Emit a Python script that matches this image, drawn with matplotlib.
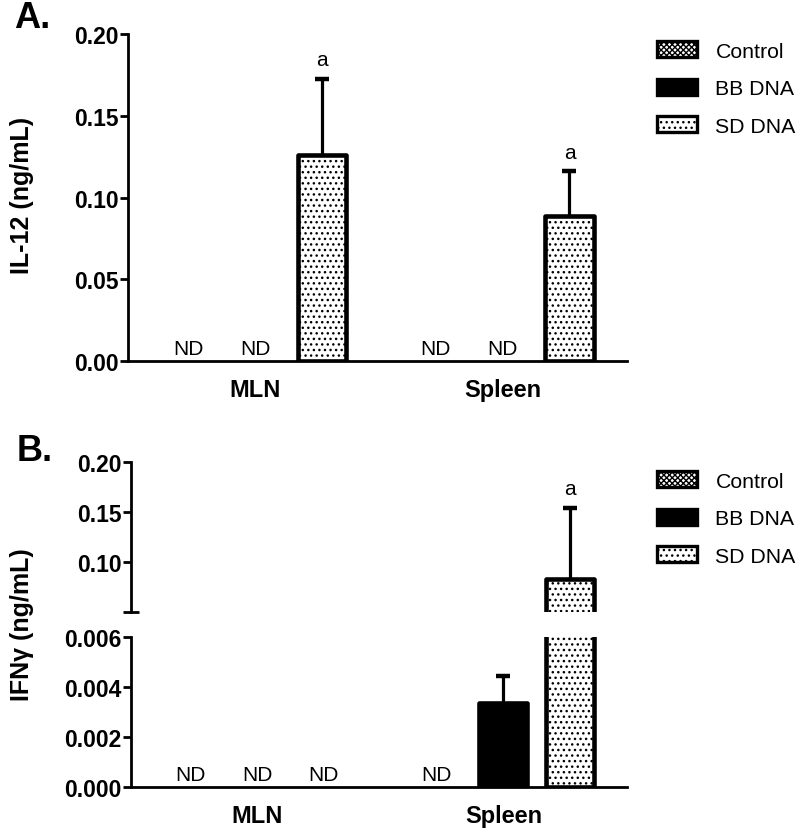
import numpy as np
import matplotlib
matplotlib.use("Agg")
import matplotlib.pyplot as plt
from matplotlib.patches import Patch

plt.rcParams['font.family'] = ['Liberation Sans', 'DejaVu Sans']
plt.rcParams['hatch.linewidth'] = 1.0

# ---------------- data ----------------
groups = ['MLN', 'Spleen']
series = ['Control', 'BB DNA', 'SD DNA']
hatches = ['xxxxxx', None, '...']
faces = ['white', 'black', 'white']

# IL-12 (ng/mL); None = not detected (ND)
il12_mean = {'Control': [None, None], 'BB DNA': [None, None], 'SD DNA': [0.126, 0.0887]}
il12_err = {'Control': [0, 0], 'BB DNA': [0, 0], 'SD DNA': [0.0465, 0.0273]}
il12_sig = {'Control': ['', ''], 'BB DNA': ['', ''], 'SD DNA': ['a', 'a']}

# IFN-gamma (ng/mL)
ifng_mean = {'Control': [None, None], 'BB DNA': [None, 0.00336], 'SD DNA': [None, 0.083]}
ifng_err = {'Control': [0, 0], 'BB DNA': [0, 0.0011], 'SD DNA': [0, 0.071]}
ifng_sig = {'Control': ['', ''], 'BB DNA': ['', ''], 'SD DNA': ['', 'a']}

il12_ticks = [0.00, 0.05, 0.10, 0.15, 0.20]
ifng_upper_ticks = [0.10, 0.15, 0.20]
ifng_lower_ticks = [0.000, 0.002, 0.004, 0.006]

# ---------------- layout ----------------
group_pos = [0.0, 3.7]
bar_w = 0.72
xlim = (-0.9, 6.56)
EDGE = 3.3
AX_LW = 2.0
FS = 16.5
ND_FS = 15
LEG_FS = 15.3
GRP_FS = 17
YL_FS = 18

fig = plt.figure(figsize=(8.0, 8.29), dpi=100)
W, H = 800, 829


def rect(x0, y0, x1, y1):
    return [x0 / W, 1 - y1 / H, (x1 - x0) / W, (y1 - y0) / H]


def style_axis(ax):
    for s in ['top', 'right']:
        ax.spines[s].set_visible(False)
    for s in ['left', 'bottom']:
        ax.spines[s].set_linewidth(AX_LW)
    ax.tick_params(axis='y', width=AX_LW, length=6, labelsize=FS, pad=1)
    for lbl in ax.get_yticklabels():
        lbl.set_fontweight('bold')
    ax.set_xlim(*xlim)


def draw_bars(ax, means, errs, sigs, nd=True):
    for gi, g0 in enumerate(group_pos):
        for si, s in enumerate(series):
            x = g0 + si
            m = means[s][gi]
            if m is None:
                if nd:
                    ax.annotate('ND', (x, 0), xytext=(0, 2), textcoords='offset points',
                                ha='center', va='bottom', fontsize=ND_FS)
                continue
            ax.bar(x, m, width=bar_w, color=faces[si], edgecolor='black',
                   linewidth=EDGE, hatch=hatches[si], zorder=3, joinstyle='round')
            e = errs[s][gi]
            if e:
                ax.plot([x, x], [m, m + e], color='black', lw=2.3, zorder=2,
                        solid_capstyle='butt')
                ax.plot([x], [m + e], marker='_', ms=10, mew=3.2, color='black', zorder=2)
            if sigs[s][gi]:
                ax.annotate(sigs[s][gi], (x, m + e), xytext=(0, 7), textcoords='offset points',
                            ha='center', va='bottom', fontsize=ND_FS)


def legend(ax, y_top):
    handles = [Patch(facecolor=faces[i], edgecolor='black', hatch=hatches[i], linewidth=2.4,
                     joinstyle='round') for i in range(3)]
    ax.legend(handles, series, loc='upper left', bbox_to_anchor=(657 / W, 1 - y_top / H),
              bbox_transform=fig.transFigure, frameon=False, fontsize=LEG_FS,
              handlelength=1.9, handleheight=0.8, handletextpad=0.85, labelspacing=0.85,
              borderpad=0, borderaxespad=0)


# ---------------- Panel A ----------------
axA = fig.add_axes(rect(128, 35, 627, 362))
draw_bars(axA, il12_mean, il12_err, il12_sig)
axA.set_ylim(0, 0.20)
axA.set_yticks(il12_ticks)
axA.set_yticklabels([f'{t:.2f}' for t in il12_ticks])
style_axis(axA)
axA.set_xticks([g + 1 for g in group_pos])
axA.set_xticklabels(groups, fontsize=GRP_FS, fontweight='bold')
axA.tick_params(axis='x', length=0, pad=12)
legend(axA, 42)
fig.text(22 / W, 1 - 195 / H, 'IL-12 (ng/mL)', rotation=90, ha='center', va='center',
         fontsize=YL_FS, fontweight='bold')
fig.text(14 / W, 1 - 18 / H, 'A.', ha='left', va='center', fontsize=26, fontweight='bold')

# ---------------- Panel B ----------------
axBu = fig.add_axes(rect(131, 463, 627, 613))
axBl = fig.add_axes(rect(131, 638, 627, 788))

draw_bars(axBu, ifng_mean, ifng_err, ifng_sig, nd=False)
axBu.set_ylim(0.05, 0.20)
axBu.set_yticks(ifng_upper_ticks)
axBu.set_yticklabels([f'{t:.2f}' for t in ifng_upper_ticks])
style_axis(axBu)
axBu.spines['bottom'].set_visible(False)
axBu.set_xticks([])
axBu.set_yticks([0.05], minor=True)
axBu.tick_params(axis='y', which='minor', direction='inout', length=12, width=AX_LW)

no_sig = {s: ['', ''] for s in series}
draw_bars(axBl, ifng_mean, ifng_err, no_sig)
axBl.set_ylim(0, 0.006)
axBl.set_yticks(ifng_lower_ticks)
axBl.set_yticklabels([f'{t:.3f}' for t in ifng_lower_ticks])
style_axis(axBl)
axBl.set_yticks([0.006], minor=True)
axBl.tick_params(axis='y', which='minor', direction='inout', length=12, width=AX_LW)
axBl.set_xticks([g + 1 for g in group_pos])
axBl.set_xticklabels(groups, fontsize=GRP_FS, fontweight='bold')
axBl.tick_params(axis='x', length=0, pad=12)
legend(axBu, 472)

fig.text(22 / W, 1 - 625 / H, 'IFNγ (ng/mL)', rotation=90, ha='center', va='center',
         fontsize=YL_FS, fontweight='bold')
fig.text(17 / W, 1 - 452 / H, 'B.', ha='left', va='center', fontsize=26, fontweight='bold')

fig.savefig('out.png', dpi=100)
